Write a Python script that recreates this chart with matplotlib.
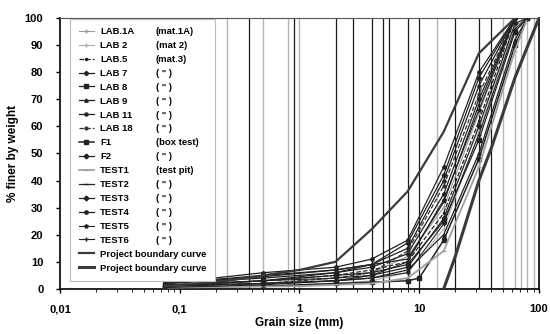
import matplotlib
matplotlib.use("Agg")
import matplotlib.pyplot as plt
from matplotlib.ticker import FixedLocator, NullFormatter

plt.rcParams['font.family'] = ['Liberation Sans', 'DejaVu Sans']

names = ["LAB.1A", "LAB 2", "LAB.5", "LAB 7", "LAB 8", "LAB 9", "LAB 11", "LAB 18",
         "F1", "F2", "TEST1", "TEST2", "TEST3", "TEST4", "TEST5", "TEST6",
         "Project boundary curve", "Project boundary curve"]
notes = ["(mat.1A)", "(mat 2)", "(mat.3)", '( " )', '( " )', '( " )', '( " )', '( " )',
         "(box test)", '( " )', "(test pit)", '( " )', '( " )', '( " )', '( " )', '( " )', "", ""]

sizes = [
    [0.075, 0.5, 2, 4, 8, 16, 31.5, 63],
    [0.075, 0.5, 2, 4, 8, 16, 31.5, 63, 80],
    [0.075, 0.5, 2, 4, 8, 16, 31.5, 63],
    [0.075, 0.5, 2, 4, 8, 16, 31.5, 63],
    [0.075, 0.5, 2, 4, 8, 16, 31.5, 63, 80],
    [0.075, 0.5, 2, 4, 8, 16, 31.5, 63, 80],
    [0.075, 0.5, 2, 4, 8, 16, 31.5, 63],
    [0.075, 0.5, 2, 4, 8, 16, 31.5, 63],
    [0.075, 0.5, 2, 4, 8, 10, 16, 31.5, 63, 80],
    [0.075, 0.5, 2, 4, 8, 16, 31.5, 63, 80],
    [0.075, 1, 4, 8, 16, 31.5, 63, 80],
    [0.075, 0.5, 2, 4, 8, 16, 31.5, 63],
    [0.075, 0.5, 2, 4, 8, 16, 31.5, 63],
    [0.075, 0.5, 2, 4, 8, 16, 31.5, 63],
    [0.075, 0.5, 2, 4, 8, 16, 31.5, 63],
    [0.075, 0.5, 2, 4, 8, 16, 31.5, 63, 80],
    [0.075, 0.25, 0.5, 1, 2, 4, 8, 16, 31.5, 63],
    [16, 20, 31.5, 40, 63, 100],
]
passing = [
    [1, 2, 4, 6, 12, 30, 65, 100],
    [0.5, 1, 2, 3, 6, 22, 58, 97, 100],
    [1, 3, 5, 7, 10, 28, 62, 100],
    [2, 4, 6, 8, 13, 35, 70, 100],
    [1.5, 3, 5, 6, 9, 25, 55, 95, 100],
    [1, 2, 3, 4, 7, 20, 50, 92, 100],
    [2, 5, 7, 9, 15, 40, 75, 100],
    [1, 2, 4, 6, 14, 38, 72, 100],
    [0.5, 1, 2, 2.5, 3, 4, 18, 48, 90, 100],
    [1, 2, 3, 5, 8, 26, 60, 98, 100],
    [0.5, 1, 2, 4, 14, 45, 88, 100],
    [2, 4.5, 7, 9, 11, 32, 68, 100],
    [1, 3, 6, 9, 17, 42, 78, 100],
    [2, 6, 8, 11, 18, 45, 80, 100],
    [1, 3, 4, 5, 10, 33, 66, 100],
    [0.5, 1.5, 3, 4, 6, 24, 57, 96, 100],
    [1, 3, 5, 7, 10, 22, 36, 58, 87, 100],
    [0, 12, 40, 52, 78, 100],
]

black_sieves = [0.38, 0.9, 2, 2.8, 4, 5, 5.6, 8, 10, 20, 31.5, 40]
grey_sieves = [0.25, 0.5, 0.8, 1.0, 14, 50, 63, 71, 80, 90]

x_ticks = [0.01, 0.1, 1, 10, 100]
x_ticklabels = ["0,01", "0,1", "1", "10", "100"]
y_ticks = [0, 10, 20, 30, 40, 50, 60, 70, 80, 90, 100]

styles = [
    dict(color="#9a9a9a", lw=0.8, marker="+", ms=3),
    dict(color="#b0b0b0", lw=0.8, marker="+", ms=3),
    dict(color="#222222", lw=0.9, ls="--", marker=".", ms=3),
    dict(color="#222222", lw=0.9, marker="D", ms=2.2),
    dict(color="#222222", lw=0.9, marker="s", ms=2.2),
    dict(color="#222222", lw=0.9, marker="^", ms=2.4),
    dict(color="#222222", lw=0.9, marker="o", ms=2.2),
    dict(color="#333333", lw=0.9, ls="--", marker="o", ms=2.0),
    dict(color="#222222", lw=1.1, marker="s", ms=2.6),
    dict(color="#222222", lw=0.9, marker="D", ms=2.4),
    dict(color="#a0a0a0", lw=1.3, marker="_", ms=3),
    dict(color="#222222", lw=0.9, marker="_", ms=3),
    dict(color="#222222", lw=0.9, marker="D", ms=2.4),
    dict(color="#222222", lw=0.9, marker="o", ms=2.4),
    dict(color="#222222", lw=0.8, marker="*", ms=3),
    dict(color="#222222", lw=0.8, marker="+", ms=3),
    dict(color="#3a3a3a", lw=1.6),
    dict(color="#3a3a3a", lw=2.2),
]

fig = plt.figure(figsize=(5.5, 3.34), dpi=100)
ax = fig.add_axes([0.109, 0.135, 0.871, 0.811])
ax.set_xscale("log")
ax.set_xlim(0.01, 100)
ax.set_ylim(0, 100)

for d in black_sieves:
    ax.axvline(d, color="#1a1a1a", lw=0.9, zorder=1)
for d in grey_sieves:
    ax.axvline(d, color="#b5b5b5", lw=1.0, zorder=1)

for nm, xs, ys, st in zip(names, sizes, passing, styles):
    ax.plot(xs, ys, label=nm, zorder=3, **st)

ax.xaxis.set_major_locator(FixedLocator(x_ticks))
ax.set_xticklabels(x_ticklabels)
ax.xaxis.set_minor_formatter(NullFormatter())
ax.set_yticks(y_ticks)
ax.tick_params(axis="both", labelsize=8, width=1, length=3, direction="out")
ax.tick_params(axis="x", which="minor", length=2)
ax.tick_params(axis="y", pad=9)
ax.tick_params(axis="x", pad=8)
for lab in ax.get_xticklabels() + ax.get_yticklabels():
    lab.set_fontweight("bold")
for s in ax.spines.values():
    s.set_linewidth(1.3)
    s.set_color("#111111")
ax.spines["top"].set_linewidth(0.8)
ax.spines["top"].set_color("#555555")

ax.set_xlabel("Grain size (mm)", fontsize=8.5, fontweight="bold", labelpad=2)
ax.set_ylabel("% finer by weight", fontsize=8.5, fontweight="bold", labelpad=4)

leg = ax.legend(loc="upper left", bbox_to_anchor=(0.022, 0.998),
                prop=dict(weight="bold", size=6.8), frameon=True, fancybox=False,
                edgecolor="#bbbbbb", framealpha=1, handlelength=1.55,
                labelspacing=0.52, borderpad=0.9, handletextpad=0.7,
                borderaxespad=0)
leg.get_frame().set_linewidth(0.8)
leg.set_zorder(5)

fig.canvas.draw()
renderer = fig.canvas.get_renderer()
inv = fig.transFigure.inverted()
note_x = 156 / 550
for t, note in zip(leg.get_texts(), notes):
    if not note:
        continue
    bb = t.get_window_extent(renderer)
    yc = inv.transform((0, (bb.y0 + bb.y1) / 2))[1]
    fig.text(note_x, yc, note, fontsize=6.8, fontweight="bold", va="center",
             ha="left", zorder=10)

fig.savefig("out.png", dpi=100)
